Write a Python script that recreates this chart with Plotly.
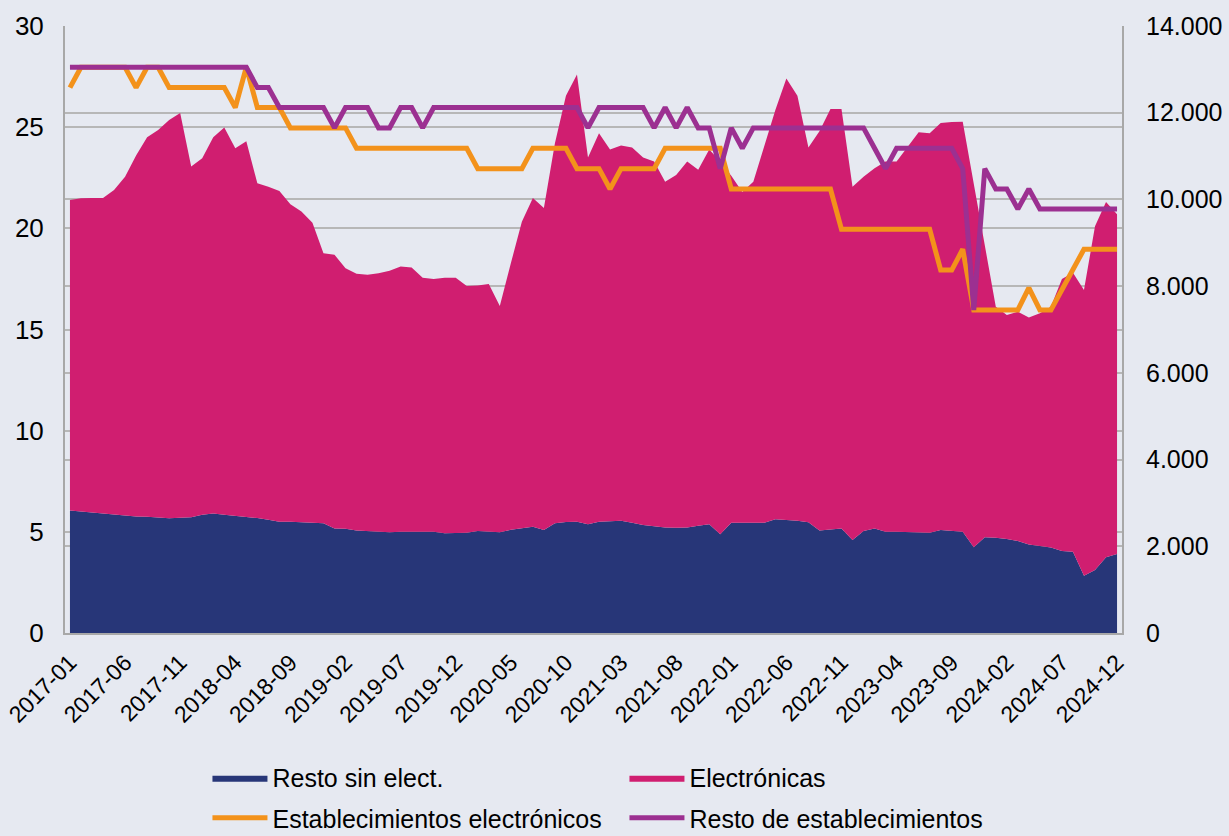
import plotly.graph_objects as go

# Categories (monthly, 2017-01 .. 2024-12)
meses = [f"{a}-{m:02d}" for a in range(2017, 2025) for m in range(1, 13)]
etiquetas = ["2017-01", "2017-06", "2017-11", "2018-04", "2018-09", "2019-02", "2019-07",
             "2019-12", "2020-05", "2020-10", "2021-03", "2021-08", "2022-01", "2022-06",
             "2022-11", "2023-04", "2023-09", "2024-02", "2024-07", "2024-12"]

# Left axis (stacked areas)
resto_sin_elect = [
    6.05, 6.00, 5.95, 5.90, 5.83, 5.78, 5.76, 5.74, 5.70, 5.67, 5.70, 5.72,
    5.85, 5.90, 5.85, 5.80, 5.75, 5.68, 5.60, 5.50, 5.50, 5.48, 5.45, 5.42,
    5.17, 5.15, 5.06, 5.03, 5.00, 4.98, 5.00, 5.00, 5.00, 5.00, 4.93, 4.95,
    4.96, 5.04, 5.00, 4.98, 5.10, 5.17, 5.25, 5.09, 5.42, 5.48, 5.50, 5.37,
    5.50, 5.52, 5.55, 5.45, 5.34, 5.28, 5.22, 5.20, 5.22, 5.30, 5.37, 4.88,
    5.45, 5.45, 5.45, 5.45, 5.62, 5.58, 5.55, 5.47, 5.06, 5.12, 5.17, 4.60,
    5.04, 5.17, 5.00, 5.00, 4.98, 4.97, 4.96, 5.09, 5.06, 5.00, 4.24, 4.73,
    4.71, 4.65, 4.55, 4.38, 4.30, 4.22, 4.05, 4.02, 2.83, 3.11, 3.74, 3.90,
]
electronicas = [
    15.35, 15.49, 15.55, 15.60, 16.07, 16.77, 17.84, 18.76, 19.16, 19.69, 20.00, 17.33,
    17.61, 18.60, 19.13, 18.16, 18.55, 16.55, 16.46, 16.35, 15.69, 15.35, 14.83, 13.35,
    13.52, 12.88, 12.69, 12.67, 12.78, 12.92, 13.11, 13.06, 12.56, 12.50, 12.63, 12.61,
    12.19, 12.13, 12.25, 11.18, 13.17, 15.16, 16.25, 15.91, 18.78, 21.07, 22.10, 18.13,
    19.20, 18.38, 18.55, 18.55, 18.16, 18.02, 17.08, 17.44, 18.08, 17.60, 18.53, 18.42,
    17.15, 16.35, 16.85, 18.65, 20.23, 21.82, 21.00, 18.53, 19.74, 20.78, 20.73, 17.46,
    17.51, 17.80, 18.30, 18.30, 19.06, 19.78, 19.74, 20.11, 20.19, 20.27, 17.96, 14.47,
    11.42, 11.07, 11.33, 11.21, 11.50, 11.91, 13.45, 13.78, 14.12, 16.99, 17.56, 16.80,
]

# Right axis (lines)
est_electronicos = [
    12580, 13050, 13050, 13050, 13050, 13050, 12580, 13050, 13050, 12580, 12580, 12580,
    12580, 12580, 12580, 12120, 13050, 12120, 12120, 12120, 11650, 11650, 11650, 11650,
    11650, 11650, 11180, 11180, 11180, 11180, 11180, 11180, 11180, 11180, 11180, 11180,
    11180, 10710, 10710, 10710, 10710, 10710, 11180, 11180, 11180, 11180, 10710, 10710,
    10710, 10240, 10710, 10710, 10710, 10710, 11180, 11180, 11180, 11180, 11180, 11180,
    10240, 10240, 10240, 10240, 10240, 10240, 10240, 10240, 10240, 10240, 9310, 9310,
    9310, 9310, 9310, 9310, 9310, 9310, 9310, 8370, 8370, 8850, 7450, 7450,
    7450, 7450, 7450, 7960, 7450, 7450, 7930, 8400, 8850, 8850, 8850, 8850,
]
resto_establecimientos = [
    13050, 13050, 13050, 13050, 13050, 13050, 13050, 13050, 13050, 13050, 13050, 13050,
    13050, 13050, 13050, 13050, 13050, 12580, 12580, 12120, 12120, 12120, 12120, 12120,
    11650, 12120, 12120, 12120, 11650, 11650, 12120, 12120, 11650, 12120, 12120, 12120,
    12120, 12120, 12120, 12120, 12120, 12120, 12120, 12120, 12120, 12120, 12120, 11650,
    12120, 12120, 12120, 12120, 12120, 11650, 12120, 11650, 12120, 11650, 11650, 10710,
    11650, 11180, 11650, 11650, 11650, 11650, 11650, 11650, 11650, 11650, 11650, 11650,
    11650, 11180, 10710, 11180, 11180, 11180, 11180, 11180, 11180, 10710, 7450, 10710,
    10240, 10240, 9780, 10240, 9780, 9780, 9780, 9780, 9780, 9780, 9780, 9780,
]

NAVY = "#273678"
MAGENTA = "#D01E70"
ORANGE = "#F3921B"
PURPLE = "#9C3091"
BG = "#E6E9F1"
GRID = "#B7B7B7"
AXIS = "#A8A8A8"
FONT = "Liberation Sans, Arial, sans-serif"

fig = go.Figure()
fig.add_trace(go.Scatter(x=meses, y=resto_sin_elect, name="Resto sin elect.", mode="lines",
                         stackgroup="area", line=dict(width=0, color=NAVY), fillcolor=NAVY,
                         legend="legend"))
fig.add_trace(go.Scatter(x=meses, y=electronicas, name="Electrónicas", mode="lines",
                         stackgroup="area", line=dict(width=0, color=MAGENTA), fillcolor=MAGENTA,
                         legend="legend"))
fig.add_trace(go.Scatter(x=meses, y=est_electronicos, name="Establecimientos electrónicos",
                         mode="lines", line=dict(color=ORANGE, width=5), yaxis="y2",
                         legend="legend2"))
fig.add_trace(go.Scatter(x=meses, y=resto_establecimientos, name="Resto de establecimientos",
                         mode="lines", line=dict(color=PURPLE, width=5), yaxis="y2",
                         legend="legend2"))

leg_common = dict(orientation="h", xref="container", yref="container", xanchor="left",
                  yanchor="middle", entrywidth=347, itemwidth=55, traceorder="normal",
                  font=dict(size=25, family=FONT), bgcolor="rgba(0,0,0,0)")

fig.update_layout(
    width=1229, height=836,
    margin=dict(l=65, r=107, t=26, b=203, autoexpand=False),
    paper_bgcolor=BG, plot_bgcolor=BG,
    separators=",.",
    font=dict(family=FONT, size=25, color="black"),
    showlegend=True,
    xaxis=dict(type="category", range=[-0.45, 95.45], tickmode="array",
               tickvals=etiquetas, ticktext=etiquetas, tickangle=-45,
               showgrid=False, showline=True, linecolor=AXIS, linewidth=2,
               ticks="", tickfont=dict(size=23), zeroline=False, automargin=False,
               ticklabelstandoff=5),
    yaxis=dict(range=[0, 30], dtick=5, showgrid=True, gridcolor=GRID, gridwidth=2,
               showline=True, linecolor=AXIS, linewidth=2, zeroline=False, ticks="",
               ticklabelstandoff=14, tickfont=dict(size=26), automargin=False),
    yaxis2=dict(overlaying="y", side="right", range=[0, 14000], dtick=2000, tickformat=",",
                showgrid=True, gridcolor=GRID, gridwidth=2, showline=True, linecolor=AXIS,
                linewidth=2, zeroline=False, ticks="", ticklabelstandoff=17,
                tickfont=dict(size=25), automargin=False),
    legend=dict(x=0.1688, y=0.0695, **leg_common),
    legend2=dict(x=0.1688, y=0.0215, **leg_common),
)

fig.write_html(
    "out.html",
    config={"displayModeBar": False},
    post_script="document.body.style.margin='0';document.body.style.background='" + BG + "';",
)
